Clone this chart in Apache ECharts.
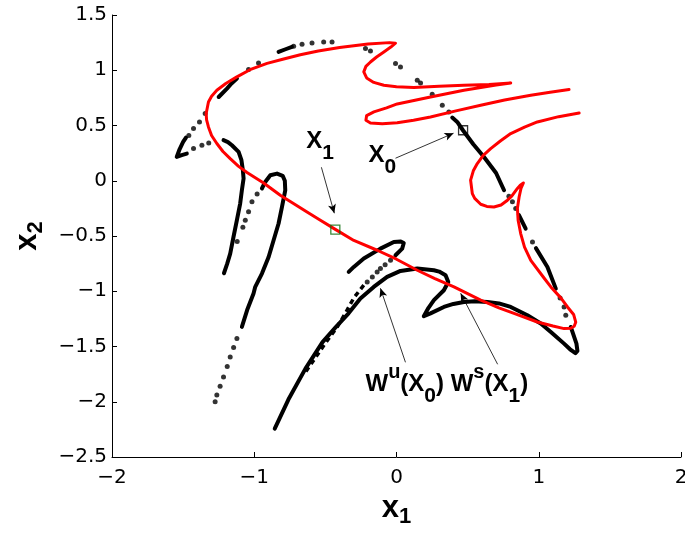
<!DOCTYPE html>
<html><head><meta charset="utf-8">
<script src="https://cdn.jsdelivr.net/npm/echarts@6/dist/echarts.min.js"></script>
<style>html,body{margin:0;padding:0;background:#fff}#c{width:685px;height:535px}</style>
</head><body><div id="c"></div><script>
// ---- axis settings ----
const xRange = [-2, 2, 1];
const yRange = [-2.5, 1.5, 0.5];

// ---- red curve: stable manifold W^s(x1) ----
const stableManifold = [[1.213,0.825],[1.08,0.80],[0.944,0.774],[0.76,0.73],[0.592,0.683],[0.41,0.63],[0.239,0.577],[0.12,0.547],[0.005,0.525],[-0.10,0.515],[-0.183,0.523],[-0.215,0.548],[-0.21,0.59],[-0.159,0.623],[-0.07,0.66],[0.005,0.695],[0.239,0.758],[0.474,0.819],[0.70,0.866],[0.803,0.885],[0.65,0.872],[0.474,0.864],[0.30,0.855],[0.122,0.845],[0.0,0.85],[-0.089,0.864],[-0.16,0.89],[-0.21,0.93],[-0.23,0.985],[-0.215,1.035],[-0.183,1.075],[-0.14,1.12],[-0.089,1.166],[-0.04,1.21],[-0.007,1.245],[-0.05,1.25],[-0.2,1.238],[-0.4,1.205],[-0.55,1.175],[-0.676,1.14],[-0.80,1.10],[-0.91,1.062],[-1.03,1.005],[-1.122,0.94],[-1.20,0.88],[-1.263,0.819],[-1.30,0.765],[-1.322,0.713],[-1.338,0.608],[-1.335,0.55],[-1.322,0.487],[-1.30,0.41],[-1.263,0.337],[-1.22,0.265],[-1.169,0.2],[-1.11,0.13],[-1.051,0.075],[-0.934,-0.02],[-0.817,-0.131],[-0.629,-0.282],[-0.535,-0.357],[-0.43,-0.44],[-0.30,-0.54],[-0.136,-0.629],[0.0,-0.71],[0.146,-0.81],[0.27,-0.885],[0.404,-0.961],[0.592,-1.081],[0.72,-1.15],[0.826,-1.2],[0.99,-1.278],[1.10,-1.315],[1.178,-1.338],[1.225,-1.335],[1.249,-1.317],[1.26,-1.28],[1.245,-1.21],[1.202,-1.142],[1.155,-1.06],[1.085,-0.961],[1.037,-0.88],[0.944,-0.72],[0.90,-0.6],[0.873,-0.478],[0.855,-0.357],[0.85,-0.25],[0.862,-0.147],[0.875,-0.07],[0.892,-0.02],[0.87,-0.04],[0.85,-0.07],[0.81,-0.14],[0.78,-0.176],[0.735,-0.22],[0.685,-0.237],[0.635,-0.232],[0.592,-0.213],[0.55,-0.16],[0.533,-0.116],[0.521,0.005],[0.54,0.09],[0.568,0.156],[0.61,0.23],[0.662,0.291],[0.73,0.36],[0.803,0.427],[0.90,0.485],[0.99,0.532],[1.14,0.58],[1.284,0.614]];

// ---- black curve: unstable manifold W^u(x0), dense pieces ----
const wuTopDash1 = [[-0.829,1.166],[-0.78,1.19],[-0.735,1.211]];
const wuTopDash2 = [[-1.122,0.925],[-1.16,0.88],[-1.192,0.834],[-1.25,0.758]];
const wuHook = [[-1.48,0.39],[-1.50,0.351],[-1.525,0.285],[-1.545,0.215],[-1.51,0.232],[-1.474,0.246]];
const wuLeft1 = [[-1.216,0.367],[-1.185,0.35],[-1.157,0.321],[-1.11,0.261],[-1.09,0.186],[-1.08,0.095],[-1.075,0.02],[-1.087,-0.086],[-1.099,-0.206],[-1.122,-0.357],[-1.146,-0.509],[-1.169,-0.659],[-1.19,-0.75],[-1.213,-0.837]];
const wuLoop = [[-0.946,-0.07],[-0.923,-0.011],[-0.887,0.05],[-0.84,0.065],[-0.80,0.045],[-0.785,0.0],[-0.782,-0.086],[-0.805,-0.237],[-0.829,-0.387],[-0.864,-0.538],[-0.899,-0.69],[-0.946,-0.84],[-0.993,-0.96],[-1.005,-1.02],[-1.05,-1.17],[-1.087,-1.323]];
const wuThroughX0 = [[0.392,0.572],[0.427,0.532],[0.467,0.457],[0.54,0.33],[0.615,0.215],[0.70,0.07],[0.756,-0.086]];
const wuRight1 = [[0.86,-0.31],[0.908,-0.433]];
const wuRight2 = [[0.98,-0.61],[1.061,-0.78],[1.12,-0.976]];
const wuLower = [[1.225,-1.323],[1.265,-1.474],[1.272,-1.54],[1.258,-1.56],[1.22,-1.525],[1.178,-1.474],[1.085,-1.368],[1.014,-1.292],[0.92,-1.217],[0.803,-1.142],[0.72,-1.11],[0.639,-1.097],[0.55,-1.09],[0.474,-1.097],[0.40,-1.115],[0.333,-1.142],[0.239,-1.20],[0.192,-1.226],[0.225,-1.15],[0.263,-1.081],[0.333,-0.991],[0.364,-0.916],[0.345,-0.855],[0.30,-0.822],[0.263,-0.81],[0.146,-0.795],[0.028,-0.816],[-0.066,-0.87],[-0.16,-0.961],[-0.254,-1.066],[-0.337,-1.2],[-0.43,-1.33],[-0.52,-1.46],[-0.64,-1.70],[-0.76,-1.98],[-0.856,-2.243]];
const wuSmallLoop = [[-0.336,-0.825],[-0.30,-0.78],[-0.23,-0.704],[-0.113,-0.614],[-0.019,-0.554],[0.03,-0.55],[0.051,-0.563],[0.04,-0.614],[-0.007,-0.674]];
const wuInnerDashed = [[-0.23,-0.945],[-0.30,-1.06],[-0.36,-1.2],[-0.42,-1.33],[-0.50,-1.47],[-0.58,-1.62],[-0.65,-1.75]];
// sparse dots of W^u(x0)
const wuDots = [[-1.04,1.006],[-0.97,1.066],[-0.723,1.217],[-0.664,1.235],[-0.594,1.247],[-0.512,1.256],[-0.453,1.256],
 [-0.218,1.196],[-0.183,1.175],[-0.007,1.06],[0.028,1.03],[0.146,0.91],[0.169,0.885],[0.251,0.783],[0.322,0.683],[0.368,0.623],
 [-1.345,0.608],[-1.385,0.532],[-1.427,0.472],[-1.46,0.41],[-1.427,0.291],[-1.368,0.321],[-1.32,0.342],
 [-1.12,-0.55],[-1.08,-0.42],[-1.063,-0.357],[-1.04,-0.28],[-1.016,-0.19],[-0.98,-0.12],
 [-1.122,-1.428],[-1.145,-1.51],[-1.169,-1.595],[-1.19,-1.68],[-1.216,-1.776],[-1.24,-1.86],[-1.263,-1.94],[-1.275,-2.0],
 [0.79,-0.14],[0.815,-0.19],[0.838,-0.252],[0.956,-0.554],[1.15,-1.06],[1.178,-1.142],[1.19,-1.217],
 [-0.042,-0.72],[-0.08,-0.76],[-0.113,-0.795],[-0.136,-0.825],[-0.17,-0.87],[-0.206,-0.916]];

// ---- fixed points ----
const pointX0 = [0.468, 0.457];
const pointX1 = [-0.43, -0.442];

// ---- annotation arrows [from, to] ----
const arrows = [
  [[-0.528,0.122],[-0.437,-0.294]],
  [[-0.007,0.204],[0.401,0.43]],
  [[0.063,-1.643],[-0.113,-0.973]],
  [[0.711,-1.661],[0.451,-1.018]]
];
// ---- annotation labels: [x, y, richText] ----
const labels = [
  [-0.634, 0.353, '{m|X}{s|1}'],
  [-0.197, 0.231, '{m|X}{s|0}'],
  [-0.218, -1.842, '{m|W}{p|u}{m|(X}{s|0}{m|) W}{p|s}{m|(X}{s|1}{m|)}']
];

const FF = '"Liberation Sans", Arial, Helvetica, sans-serif';
const TF = '"DejaVu Sans", sans-serif';
const chart = echarts.init(document.getElementById('c'), null, {renderer:'canvas'});
const fmt = v => String(v).replace('-', '\u2212');

const blackLine = d => ({type:'line', data:d, showSymbol:false, silent:true, z:2,
  lineStyle:{color:'#000', width:4, cap:'round', join:'round'}, animation:false});

const series = [
  blackLine(wuTopDash1), blackLine(wuTopDash2), blackLine(wuHook), blackLine(wuLeft1),
  blackLine(wuLoop), blackLine(wuThroughX0), blackLine(wuRight1), blackLine(wuRight2),
  blackLine(wuLower), blackLine(wuSmallLoop),
  {type:'line', data:wuInnerDashed, showSymbol:false, silent:true, z:2, animation:false,
   lineStyle:{color:'#000', width:3.5, type:[5,4]}},
  {type:'scatter', data:wuDots, symbol:'circle', symbolSize:5, silent:true, z:2, animation:false,
   itemStyle:{color:'#000'}},
  {type:'line', data:stableManifold, showSymbol:false, silent:true, z:3, animation:false,
   lineStyle:{color:'#ff0000', width:3, cap:'round', join:'round'}},
  {type:'scatter', data:[pointX1], symbol:'rect', symbolSize:9, silent:true, z:4, animation:false,
   itemStyle:{color:'rgba(0,0,0,0)', borderColor:'#0a6b0a', borderWidth:1.3}},
  {type:'scatter', data:[pointX0], symbol:'rect', symbolSize:9, silent:true, z:4, animation:false,
   itemStyle:{color:'rgba(0,0,0,0)', borderColor:'#000', borderWidth:1.3},
   markLine:{silent:true, animation:false, symbol:['none','arrow'], symbolSize:[6,9],
     label:{show:false}, lineStyle:{color:'#000', width:0.8, type:'solid'},
     data: arrows.map(a => [{coord:a[0]},{coord:a[1]}])}}
];

chart.setOption({
  animation:false,
  backgroundColor:'#fff',
  grid:{left:112, right:4, top:15, bottom:78, containLabel:false, outerBoundsMode:'none'},
  xAxis:{type:'value', min:xRange[0], max:xRange[1], interval:xRange[2],
    axisLine:{onZero:false, lineStyle:{color:'#000', width:1}}, splitLine:{show:false},
    axisTick:{inside:true, length:5, lineStyle:{color:'#000'}},
    axisLabel:{color:'#000', fontSize:20, fontFamily:TF, margin:11, formatter:fmt},
    name:'{m|x}{s|1}', nameLocation:'middle', nameGap:31,
    nameTextStyle:{rich:{m:{fontSize:31, fontWeight:'bold', fontFamily:FF, color:'#000', lineHeight:40},
      s:{fontSize:22, fontWeight:'bold', fontFamily:FF, color:'#000', verticalAlign:'bottom', lineHeight:16}}}},
  yAxis:{type:'value', min:yRange[0], max:yRange[1], interval:yRange[2],
    axisLine:{show:true, onZero:false, lineStyle:{color:'#000', width:1}}, splitLine:{show:false},
    axisTick:{show:true, inside:true, length:5, lineStyle:{color:'#000'}},
    axisLabel:{color:'#000', fontSize:20, fontFamily:TF, margin:5, formatter:fmt},
    name:'{m|x}{s|2}', nameLocation:'middle', nameGap:65,
    nameTextStyle:{rich:{m:{fontSize:31, fontWeight:'bold', fontFamily:FF, color:'#000', lineHeight:40},
      s:{fontSize:22, fontWeight:'bold', fontFamily:FF, color:'#000', verticalAlign:'bottom', lineHeight:16}}}},
  series: series
});

const rich = {
  m:{fontSize:24, fontWeight:'bold', fontFamily:FF, fill:'#000', lineHeight:44, verticalAlign:'middle'},
  s:{fontSize:21, fontWeight:'bold', fontFamily:FF, fill:'#000', lineHeight:16, verticalAlign:'bottom'},
  p:{fontSize:20, fontWeight:'bold', fontFamily:FF, fill:'#000', lineHeight:26, verticalAlign:'top'}
};
const graphics = labels.map(l => {
  const p = chart.convertToPixel({gridIndex:0}, [l[0], l[1]]);
  return {type:'text', x:p[0], y:p[1], silent:true, z:10,
    style:{text:l[2], rich:rich, align:'left', verticalAlign:'middle', fill:'#000'}};
});
chart.setOption({graphic:graphics});
</script></body></html>
